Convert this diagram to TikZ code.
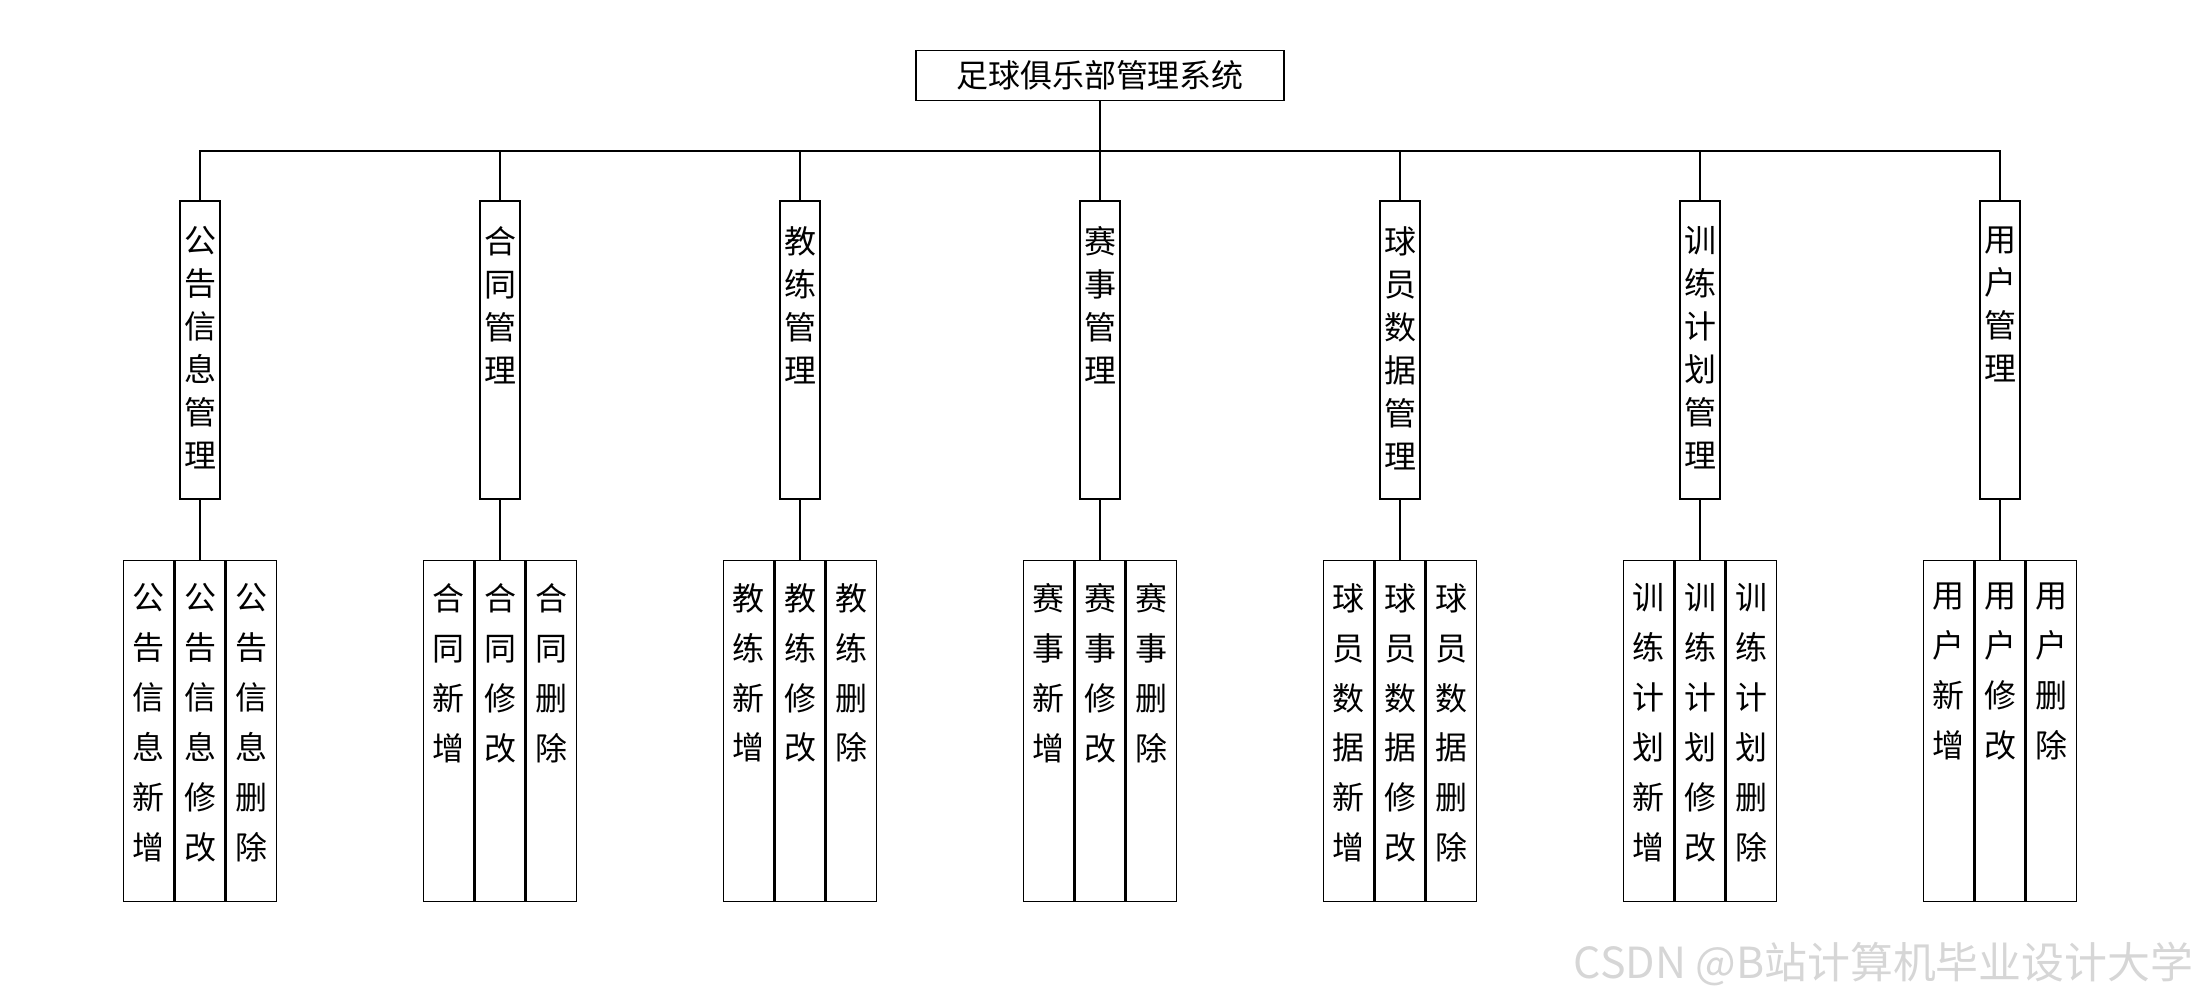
\documentclass[tikz,border=0pt]{standalone}
\usepackage{fontspec}
\setmainfont{Noto Sans CJK SC}
\usetikzlibrary{positioning, calc}

\definecolor{ink}{HTML}{000000}
\definecolor{mark}{HTML}{d6d6d6}

\newcommand{\modtext}[1]{\parbox[c][2.98cm][t]{0.4cm}{\centering\fontsize{9.1}{12.2}\selectfont\vspace*{0.26cm}#1\par}}
\newcommand{\leaftext}[1]{\parbox[c][3.41cm][t]{0.5cm}{\centering\fontsize{9.1}{14.2}\selectfont\vspace*{0.23cm}#1\par}}

\begin{document}
\begin{tikzpicture}[line width=0.45pt,
  sysbox/.style={draw=ink, minimum width=3.68cm, minimum height=0.5cm, inner sep=0pt, font=\fontsize{9.1}{11}\selectfont},
  modbox/.style={draw=ink, inner sep=0pt, anchor=north},
  leafbox/.style={draw=ink, inner sep=0pt},
  wire/.style={draw=ink},
  marktext/.style={text=mark, font=\fontsize{12.2}{14}\selectfont, inner sep=0pt, anchor=east}
]
  \useasboundingbox (0,0) rectangle (22,-10);

  \node[sysbox] (sys) at (11.0,-0.755) {足球俱乐部管理系统};
  \coordinate (bus) at ($(sys.south)+(0,-0.5)$);

  % modules and their leaves
  \foreach \p [count=\k, evaluate=\k as \x using 3*\k-1] in
      {{公\\告\\信\\息}, {合\\同}, {教\\练}, {赛\\事}, {球\\员\\数\\据}, {训\\练\\计\\划}, {用\\户}} {
    \node[modbox] (m\k) at (\x,-2.0) {\modtext{\p\\管\\理}};
    \node[leafbox, below=0.6cm of m\k] (l\k b) {\leaftext{\p\\修\\改}};
    \node[leafbox, left=0pt of l\k b] (l\k a) {\leaftext{\p\\新\\增}};
    \node[leafbox, right=0pt of l\k b] (l\k c) {\leaftext{\p\\删\\除}};
    \draw[wire] (m\k.south) -- (l\k b.north);
  }

  \draw[wire] (sys.south) -- (bus);
  \draw[wire] (m1.north) |- (bus) -| (m7.north);
  \foreach \k in {2,...,6} \draw[wire] (m\k.north) -- (m\k.north |- bus);

  \node[marktext] (wm) at (21.94,-9.64) {CSDN @B站计算机毕业设计大学};
\end{tikzpicture}
\end{document}
